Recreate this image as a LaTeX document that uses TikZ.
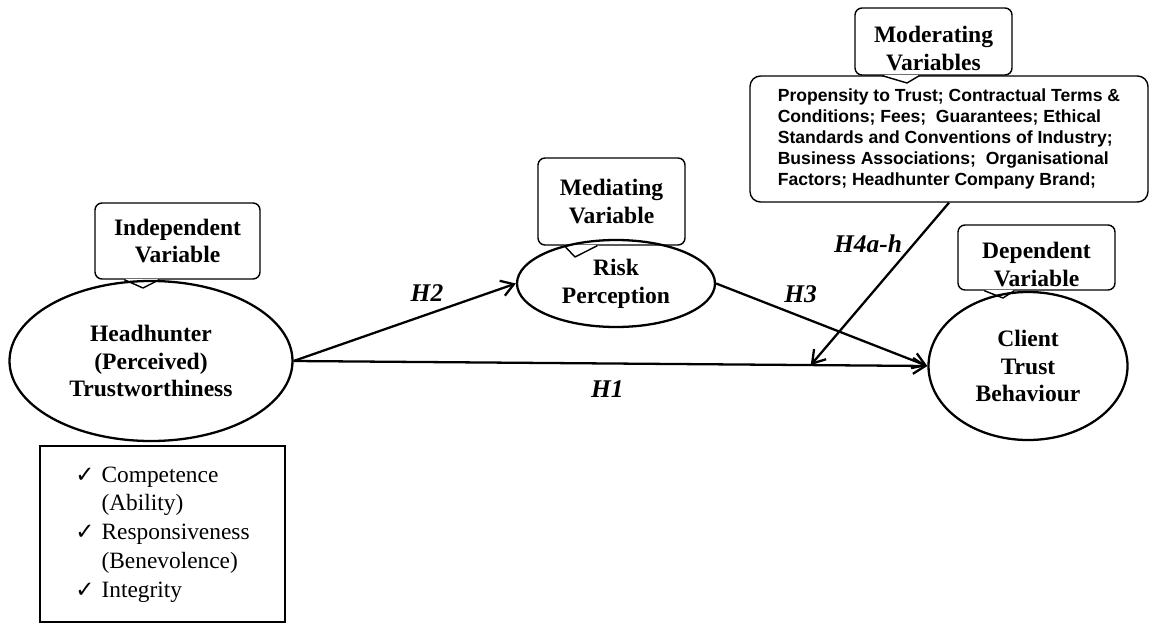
\documentclass[tikz,border=0pt]{standalone}
\usepackage{fontspec}
\setmainfont{Liberation Serif}
\newfontfamily\arialfont{Liberation Sans}
\newfontfamily\ckfont{DejaVu Sans}
\usetikzlibrary{shapes.geometric}
\usetikzlibrary{arrows.meta}
\newcommand{\ck}{{\ckfont\fontsize{13}{13}\selectfont\char"2713}}
\newcommand{\callptr}[4]{%
\fill[white] ([xshift=#2,yshift=0.5pt]#1.south west) -- (#4) -- ([xshift=#3,yshift=0.5pt]#1.south west) -- cycle;
\draw[line width=0.8pt, line join=round] ([xshift=#2]#1.south west) -- (#4) -- ([xshift=#3]#1.south west);}
\tikzset{
every node/.style={inner sep=0pt},
var/.style={ellipse, draw, line width=1.3pt, align=center, font=\bfseries\fontsize{13.4}{15.9}\selectfont},
callbox/.style={rectangle, draw, rounded corners=4pt, line width=0.8pt, align=center, font=\bfseries\fontsize{13.4}{15.9}\selectfont},
hyp/.style={font=\bfseries\itshape\fontsize{14.5}{17}\selectfont, inner sep=1pt},
link/.style={line width=1.3pt, -{Straight Barb[length=7pt,width=9pt]}}
}

\begin{document}
\begin{tikzpicture}
\useasboundingbox (0,0) rectangle (22.98,-12.5);

\node[callbox, minimum width=3.3cm, minimum height=1.52cm] (indep) at (3.55,-4.82) {Independent\\Variable};
\node[callbox, minimum width=2.94cm, minimum height=1.74cm] (medi) at (12.23,-4.03) {Mediating\\Variable};
\node[callbox, minimum width=3.14cm, minimum height=1.3cm] (depen) at (20.73,-5.15) {\rule{0pt}{17pt}Dependent\\Variable};
\node[callbox, rounded corners=6pt, align=left, minimum width=7.96cm, minimum height=2.52cm, font=\arialfont\bfseries\fontsize{10}{12}\selectfont] (mod) at (18.98,-2.78) {Propensity to Trust; Contractual Terms \&\\Conditions; Fees;\ \ Guarantees; Ethical\\Standards and Conventions of Industry;\\Business Associations;\ \ Organisational\\Factors; Headhunter Company Brand;};
\node[callbox, minimum width=3.14cm, minimum height=1.34cm] (modhead) at (18.67,-0.83) {\rule{0pt}{17pt}Moderating\\Variables};

\coordinate (indeptip) at (2.86,-5.76);
\coordinate (meditip) at (11.5,-5.14);
\coordinate (depentip) at (20.06,-5.96);
\coordinate (modtip) at (18.14,-1.66);
\callptr{indep}{0.6cm}{1.3cm}{indeptip}
\callptr{medi}{0.54cm}{1.2cm}{meditip}
\callptr{depen}{0.54cm}{1.14cm}{depentip}
\callptr{modhead}{0.56cm}{1.3cm}{modtip}

\node[var, minimum width=5.66cm, minimum height=3.2cm] (hh) at (3.02,-7.22) {Headhunter\\(Perceived)\\Trustworthiness};
\node[var, minimum width=3.96cm, minimum height=1.74cm] (risk) at (12.32,-5.67) {Risk\\Perception};
\node[var, minimum width=3.98cm, minimum height=2.96cm] (ctb) at (20.56,-7.32) {Client\\Trust\\Behaviour};

\node[draw, line width=1.5pt, minimum width=4.9cm, minimum height=3.52cm, font=\fontsize{13.3}{16.4}\selectfont] (dims) at (3.25,-10.68) {\begin{tabular}{@{}l@{\hspace{4pt}}l@{}}\ck & Competence\\ & (Ability)\\ \ck & Responsiveness\\ & (Benevolence)\\ \ck & Integrity\end{tabular}};

\path (hh.east) -- (ctb.west) coordinate[pos=0.816] (modpt);
\draw[link] (hh.east) -- node[hyp, pos=0.495, below=8pt] {H1} (ctb.west);
\draw[link] (hh.east) -- node[hyp, pos=0.6, above=6pt] {H2} (risk.west);
\draw[link] (risk.east) -- node[hyp, pos=0.4, above=6pt] {H3} (ctb.west);
\draw[link] (mod.south) -- node[hyp, pos=0.255, left=5pt] {H4a-h} (modpt);
\end{tikzpicture}
\end{document}
